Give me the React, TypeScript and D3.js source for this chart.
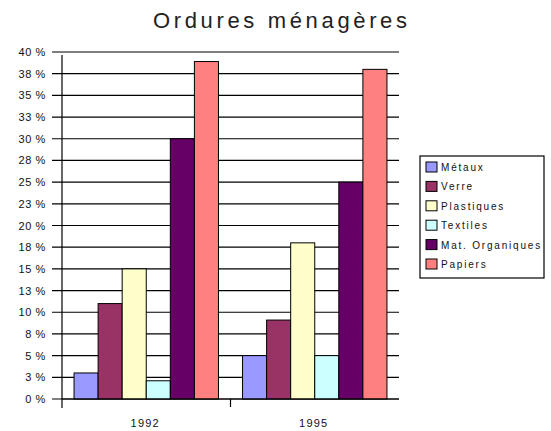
import React from 'react'
import * as d3 from 'd3'

const years = ['1992', '1995']
const materials = ['Métaux', 'Verre', 'Plastiques', 'Textiles', 'Mat. Organiques', 'Papiers']
const colors = ['#9999ff', '#993366', '#ffffcc', '#ccffff', '#660066', '#ff8080']
const values1992 = [3, 11, 15, 2.1, 30, 38.9]
const values1995 = [5, 9.1, 18, 5, 25, 38]
const yTicks = d3.range(0, 40.01, 2.5)

const width = 551
const height = 431
const margin = { top: 52, right: 152, bottom: 32, left: 62 }

export default function App() {
  const innerBottom = height - margin.bottom
  const plotRight = width - margin.right

  const x = d3.scaleBand().domain(years).range([margin.left, plotRight]).padding(0)
  const xSub = d3.scaleBand()
    .domain(materials)
    .range([0, x.bandwidth()])
    .paddingInner(0)
    .paddingOuter(0.5)
  const y = d3.scaleLinear().domain([0, 40]).range([innerBottom, margin.top])

  const rows = [values1992, values1995]
  const font = '"Liberation Sans", Arial, sans-serif'

  return (
    <svg
      width={width}
      height={height}
      style={{ position: 'absolute', left: 0, top: 0, background: '#fff' }}
      fontFamily={font}
    >
      <rect width={width} height={height} fill="#fff" />

      {/* title */}
      <text x={153} y={28} fontSize={22} textLength={254} lengthAdjust="spacing" fill="#222">
        Ordures ménagères
      </text>

      {/* grid lines + y ticks */}
      {yTicks.map(t => (
        <g key={t}>
          <line
            x1={margin.left - 10}
            x2={plotRight}
            y1={y(t)}
            y2={y(t)}
            stroke="#000"
            strokeWidth={1.2}
          />
          <text
            x={46}
            y={y(t) + 4}
            textAnchor="end"
            fontSize={11}
            letterSpacing={0.6}
            fill="#111"
          >
            {`${Math.round(t)} %`}
          </text>
        </g>
      ))}

      {/* bars */}
      {years.map((yr, gi) => (
        <g key={yr} transform={`translate(${x(yr)},0)`}>
          {materials.map((m, i) => (
            <rect
              key={m}
              x={xSub(m)}
              y={y(rows[gi][i])}
              width={xSub.bandwidth()}
              height={innerBottom - y(rows[gi][i])}
              fill={colors[i]}
              stroke="#000"
              strokeWidth={1}
            />
          ))}
        </g>
      ))}

      {/* axes */}
      <line x1={margin.left} x2={margin.left} y1={y(40) + 3} y2={innerBottom + 9} stroke="#000" strokeWidth={1.2} />
      <line x1={margin.left} x2={plotRight} y1={innerBottom} y2={innerBottom} stroke="#000" strokeWidth={1.2} />
      {years.slice(1).map(yr => (
        <line
          key={yr}
          x1={x(yr)}
          x2={x(yr)}
          y1={innerBottom}
          y2={innerBottom + 8}
          stroke="#000"
          strokeWidth={1.2}
        />
      ))}
      {years.map(yr => (
        <text
          key={yr}
          x={(x(yr) || 0) + x.bandwidth() / 2 - 1}
          y={427}
          textAnchor="middle"
          fontSize={11}
          letterSpacing={1.2}
          fill="#111"
        >
          {yr}
        </text>
      ))}

      {/* legend */}
      <g transform="translate(420,156)">
        <rect x={0} y={0} width={124} height={122} fill="#fff" stroke="#000" strokeWidth={1.2} />
        {materials.map((m, i) => (
          <g key={m} transform={`translate(6,${11 + i * 19.4 - 5})`}>
            <rect width={11} height={10} fill={colors[i]} stroke="#000" strokeWidth={1} />
            <text x={15} y={9} fontSize={10} letterSpacing={1.8} fill="#111">
              {m}
            </text>
          </g>
        ))}
      </g>
    </svg>
  )
}
